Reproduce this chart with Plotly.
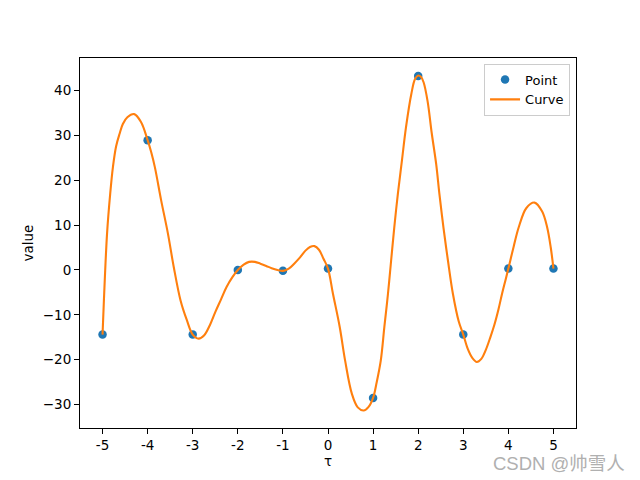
import plotly.graph_objects as go

# sample points
point_x = [-5, -4, -3, -2, -1, 0, 1, 2, 3, 4, 5]
point_y = [-14.4, 28.9, -14.4, 0.0, -0.2, 0.3, -28.5, 43.2, -14.4, 0.3, 0.3]

# smooth curve
curve_x = [-5.0, -4.97, -4.9, -4.83, -4.77, -4.7, -4.62, -4.55, -4.45, -4.3, -4.15,
           -4.0, -3.92, -3.84, -3.7, -3.55, -3.42, -3.27, -3.13, -3.0, -2.87, -2.75,
           -2.62, -2.5, -2.37, -2.25, -2.12, -2.0, -1.87, -1.75, -1.62, -1.5, -1.37,
           -1.25, -1.12, -1.0, -0.87, -0.75, -0.62, -0.5, -0.4, -0.3, -0.2, -0.1,
           0.0, 0.11, 0.26, 0.38, 0.53, 0.66, 0.79, 0.9, 1.0, 1.08, 1.17, 1.25,
           1.33, 1.4, 1.47, 1.55, 1.64, 1.73, 1.85, 1.93, 2.0, 2.06, 2.12, 2.21,
           2.3, 2.4, 2.47, 2.56, 2.66, 2.77, 2.9, 3.0, 3.1, 3.2, 3.3, 3.4, 3.5,
           3.6, 3.69, 3.78, 3.86, 3.93, 4.0, 4.12, 4.23, 4.4, 4.58, 4.75, 4.86,
           4.94, 5.0]
curve_y = [-14.4, -6.8, 8.1, 17.0, 22.9, 27.5, 30.4, 32.5, 34.0, 34.7, 33.0,
           28.9, 26.2, 22.9, 15.5, 8.1, 0.6, -6.8, -11.2, -14.4, -15.3, -14.6,
           -12.3, -9.4, -6.5, -3.8, -1.6, 0.0, 1.2, 1.8, 1.8, 1.4, 0.9,
           0.4, 0.0, -0.2, 0.3, 1.4, 2.8, 4.3, 5.1, 5.3, 4.5, 2.5,
           0.3, -5.3, -12.7, -20.2, -27.6, -30.6, -31.3, -30.5, -28.5, -25.0, -20.2, -12.7,
           -5.3, 2.1, 9.5, 17.0, 24.4, 31.8, 39.3, 42.5, 43.3, 43.0, 41.8, 37.5,
           30.5, 23.5, 17.0, 9.5, 2.1, -5.3, -11.5, -14.4, -17.6, -19.6, -20.5, -19.8, -17.8,
           -15.0, -12.2, -8.8, -5.3, -2.5, 0.3, 5.3, 9.5, 13.8, 15.0, 13.0, 9.5,
           5.0, 0.3]

xtick_vals = [-5, -4, -3, -2, -1, 0, 1, 2, 3, 4, 5]
xtick_text = ['-5', '-4', '-3', '-2', '-1', '0', '1', '2', '3', '4', '5']
ytick_vals = [-30, -20, -10, 0, 10, 20, 30, 40]
ytick_text = ['\u221230', '\u221220', '\u221210', '0', '10', '20', '30', '40']

fig = go.Figure()

fig.add_trace(go.Scatter(
    x=point_x, y=point_y, mode='markers', name='Point',
    marker=dict(color='#1f77b4', size=8.5)
))

fig.add_trace(go.Scatter(
    x=curve_x, y=curve_y, mode='lines', name='Curve',
    line=dict(color='#ff7f0e', width=2.1, shape='spline', smoothing=1.0)
))

axis_style = dict(
    showline=True, mirror=True, linecolor='black', linewidth=1.1,
    ticks='outside', ticklen=5, tickwidth=1.1, tickcolor='black',
    showgrid=False, zeroline=False,
    tickfont=dict(size=13.5, color='black')
)

fig.update_xaxes(range=[-5.5, 5.5], tickvals=xtick_vals, ticktext=xtick_text,
                 title=dict(text='τ', font=dict(size=13.5), standoff=4), **axis_style)
fig.update_yaxes(range=[-35.2, 47.2], tickvals=ytick_vals, ticktext=ytick_text,
                 title=dict(text='value', font=dict(size=13.5), standoff=6), **axis_style)

# watermark
fig.add_annotation(
    text='CSDN @帅雪人', xref='paper', yref='paper', x=1.103, y=-0.095,
    xanchor='right', yanchor='middle', showarrow=False,
    font=dict(family='Liberation Sans, Noto Sans CJK SC', size=18.5, color='#b0b0b0')
)

# the page body adds an 8px offset, so the figure is drawn 8px smaller
fig.update_layout(
    width=632, height=472,
    margin=dict(l=72, r=64, t=50, b=52.4, autoexpand=False),
    paper_bgcolor='white', plot_bgcolor='white',
    font=dict(family='DejaVu Sans', color='black', size=13.5),
    showlegend=True,
    legend=dict(x=0.988, y=0.985, xanchor='right', yanchor='top',
                bordercolor='#cccccc', borderwidth=1, bgcolor='rgba(255,255,255,0.8)',
                font=dict(size=13), tracegroupgap=0, itemwidth=30)
)

fig.write_html("out.html")
